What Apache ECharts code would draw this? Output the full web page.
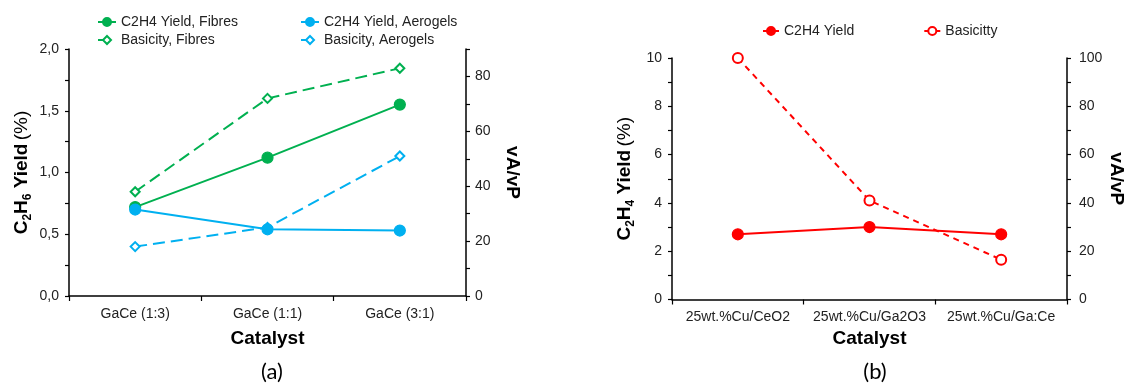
<!DOCTYPE html>
<html>
<head>
<meta charset="utf-8">
<script src="https://cdn.jsdelivr.net/npm/echarts@6/dist/echarts.min.js"></script>
<style>
  html, body { margin: 0; padding: 0; background: #fff; }
  #chart { width: 1131px; height: 383px; }
</style>
</head>
<body>
<div id="chart"></div>
<script>
  // 数据 (a)
  const catsA = ['GaCe (1:3)', 'GaCe (1:1)', 'GaCe (3:1)'];
  const yieldFibres = [0.72, 1.12, 1.55];
  const yieldAerogels = [0.70, 0.54, 0.53];
  const basicityFibres = [38, 72, 83];
  const basicityAerogels = [18, 25, 51];

  // 数据 (b)
  const catsB = ['25wt.%Cu/CeO2', '25wt.%Cu/Ga2O3', '25wt.%Cu/Ga:Ce'];
  const yieldB = [2.7, 3.0, 2.7];
  const basicityB = [100, 41, 16.5];

  const FONT = '"Liberation Sans", Arial, sans-serif';
  const GREEN = '#00B050';
  const BLUE = '#00B0F0';
  const RED = '#FF0000';
  const INK = '#222';

  // 只在每隔一个刻度显示标签
  function everyOther(step, fmt) {
    return function (v) {
      const k = v / step;
      return Math.abs(k - Math.round(k)) < 1e-6 && Math.round(k) % 2 === 0 ? fmt(v) : '';
    };
  }

  const comma = v => v.toFixed(1).replace('.', ',');
  const plain = v => String(Math.round(v));

  const nameRich = {
    b: { fontFamily: FONT, fontSize: 19, fontWeight: 'bold', color: '#000', lineHeight: 24 },
    s: { fontFamily: FONT, fontSize: 12, fontWeight: 'bold', color: '#000', lineHeight: 12, verticalAlign: 'bottom' },
    n: { fontFamily: FONT, fontSize: 19, color: '#000', lineHeight: 24 }
  };

  function valueAxis(gridIndex, position, max, interval, fmt, name, nameGap, extra) {
    return Object.assign({
      type: 'value',
      gridIndex: gridIndex,
      position: position,
      min: 0,
      max: max,
      interval: interval,
      name: name,
      nameLocation: 'middle',
      nameGap: nameGap,
      axisLine: { show: true, lineStyle: { color: '#000', width: 1.5 } },
      axisTick: { show: true, length: 4, lineStyle: { color: '#000', width: 1.2 } },
      splitLine: { show: false },
      axisLabel: { fontFamily: FONT, fontSize: 14, color: INK, margin: 10, formatter: everyOther(interval, fmt) }
    }, extra || {});
  }

  function catAxis(gridIndex, data, nameGap) {
    return {
      type: 'category',
      gridIndex: gridIndex,
      data: data,
      boundaryGap: true,
      name: 'Catalyst',
      nameLocation: 'middle',
      nameGap: nameGap,
      nameTextStyle: { fontFamily: FONT, fontSize: 19, fontWeight: 'bold', color: '#000' },
      axisLine: { show: true, lineStyle: { color: '#000', width: 1.5 } },
      axisTick: { show: true, interval: 0, length: 5, lineStyle: { color: '#000', width: 1.2 } },
      axisLabel: { interval: 0, fontFamily: FONT, fontSize: 14, color: INK, margin: 11 }
    };
  }

  function lineSeries(name, x, y, data, color, dashed, symbol, size) {
    return {
      name: name,
      type: 'line',
      xAxisIndex: x,
      yAxisIndex: y,
      data: data,
      symbol: symbol,
      symbolSize: size,
      lineStyle: { color: color, width: 2, type: dashed || 'solid' },
      itemStyle: { color: color, borderColor: color, borderWidth: 1.2 },
      emphasis: { disabled: true }
    };
  }

  const legendText = { fontFamily: FONT, fontSize: 14, color: INK };

  let myChart = echarts.init(document.getElementById('chart'), null, { renderer: 'canvas' });

  myChart.setOption({
    animation: false,
    title: [
      { text: '(a)', left: 267, top: 356, textAlign: 'center',
        textStyle: { fontFamily: 'Lato, sans-serif', fontSize: 22, fontWeight: 'normal', color: '#000' } },
      { text: '(b)', left: 870, top: 356, textAlign: 'center',
        textStyle: { fontFamily: 'Lato, sans-serif', fontSize: 22, fontWeight: 'normal', color: '#000' } }
    ],
    legend: [
      { data: ['C2H4 Yield, Fibres', 'Basicity, Fibres'], orient: 'vertical', left: 92, top: 10,
        itemWidth: 18, itemHeight: 10, itemGap: 4, selectedMode: false, textStyle: legendText },
      { data: ['C2H4 Yield, Aerogels', 'Basicity, Aerogels'], orient: 'vertical', left: 295, top: 10,
        itemWidth: 18, itemHeight: 10, itemGap: 4, selectedMode: false, textStyle: legendText },
      { data: ['C2H4 Yield', 'Basicitty'], orient: 'horizontal', left: 757, top: 19,
        itemWidth: 16, itemHeight: 10, itemGap: 69, selectedMode: false, textStyle: legendText }
    ],
    grid: [
      { left: 69, right: 665, top: 49, bottom: 87 },
      { left: 672, right: 64, top: 58, bottom: 83.5 }
    ],
    xAxis: [
      catAxis(0, catsA, 33),
      catAxis(1, catsB, 30)
    ],
    yAxis: [
      valueAxis(0, 'left', 2, 0.25, comma, '{b|C}{s|2}{b|H}{s|6}{b| Yield} {n|(%)}', 35,
        { nameTextStyle: { rich: nameRich } }),
      valueAxis(0, 'right', 90, 10, plain, 'vA/vP', 37,
        { nameRotate: -90, nameTextStyle: { fontFamily: FONT, fontSize: 19, fontWeight: 'bold', color: '#000' },
          axisLabel: { fontFamily: FONT, fontSize: 14, color: INK, margin: 9, formatter: everyOther(10, plain) } }),
      valueAxis(1, 'left', 10, 1, plain, '{b|C}{s|2}{b|H}{s|4}{b| Yield} {n|(%)}', 35,
        { nameTextStyle: { rich: nameRich } }),
      valueAxis(1, 'right', 100, 10, plain, 'vA/vP', 38,
        { nameRotate: -90, nameTextStyle: { fontFamily: FONT, fontSize: 19, fontWeight: 'bold', color: '#000' },
          axisLabel: { fontFamily: FONT, fontSize: 14, color: INK, margin: 12, formatter: everyOther(10, plain) } })
    ],
    series: [
      lineSeries('Basicity, Fibres', 0, 1, basicityFibres, GREEN, [12, 6], 'emptyDiamond', 9),
      lineSeries('Basicity, Aerogels', 0, 1, basicityAerogels, BLUE, [12, 6], 'emptyDiamond', 9),
      lineSeries('C2H4 Yield, Fibres', 0, 0, yieldFibres, GREEN, null, 'circle', 11),
      lineSeries('C2H4 Yield, Aerogels', 0, 0, yieldAerogels, BLUE, null, 'circle', 11),
      lineSeries('Basicitty', 1, 3, basicityB, RED, [6, 5], 'emptyCircle', 10),
      lineSeries('C2H4 Yield', 1, 2, yieldB, RED, null, 'circle', 11)
    ]
  });
</script>
</body>
</html>
